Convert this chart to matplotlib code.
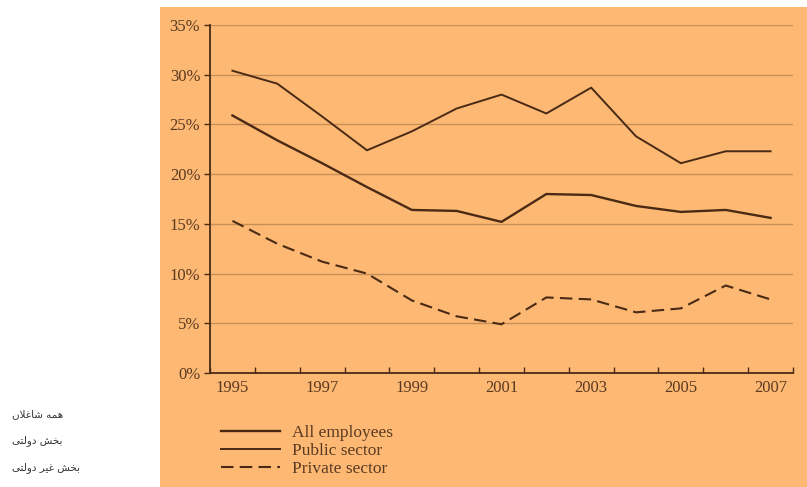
import matplotlib
matplotlib.use("Agg")
import matplotlib.pyplot as plt
from matplotlib.patches import Rectangle
import numpy as np

years = list(range(1995, 2008))
all_employees = [25.9, 23.4, 21.1, 18.7, 16.4, 16.3, 15.2, 18.0, 17.9, 16.8, 16.2, 16.4, 15.6]
public_sector = [30.4, 29.1, 25.8, 22.4, 24.3, 26.6, 28.0, 26.1, 28.7, 23.8, 21.1, 22.3, 22.3]
private_sector = [15.3, 13.0, 11.2, 10.0, 7.3, 5.7, 4.9, 7.6, 7.4, 6.1, 6.5, 8.8, 7.4]
series_labels = ["All employees", "Public sector", "Private sector"]
# Persian labels (pre-shaped presentation forms in visual order)
persian_labels = [
    "\uFEE5\uFEFC\uFECF\uFE8E\uFEB7 \uFEEA\uFEE4\uFEEB",              # همه شاغلان
    "\uFEF0\uFE98\uFEDF\uFEED\uFEA9 \uFEB6\uFEA8\uFE91",              # بخش دولتی
    "\uFEF0\uFE98\uFEDF\uFEED\uFEA9 \uFEAE\uFEF4\uFECF \uFEB6\uFEA8\uFE91",  # بخش غیر دولتی
]
yticks = [0, 5, 10, 15, 20, 25, 30, 35]

W, H = 807, 487
fig = plt.figure(figsize=(W / 100, H / 100), dpi=100)
fig.patch.set_facecolor("white")

bg = "#FDB973"
ink = "#4a2a14"
txt = "#5a3a22"
grid = "#c98e58"

fig.patches.append(Rectangle((160 / W, 0), 1, (H - 7) / H, transform=fig.transFigure,
                             facecolor=bg, edgecolor="none", zorder=-10))

ax = fig.add_axes([210 / W, 1 - 373 / H, (793 - 210) / W, (373 - 25) / H])
ax.set_facecolor("none")

x = np.arange(len(years))
l1, = ax.plot(x, all_employees, color=ink, lw=1.7, solid_joinstyle="round")
l2, = ax.plot(x, public_sector, color=ink, lw=1.4, solid_joinstyle="round")
l3, = ax.plot(x, private_sector, color=ink, lw=1.5, linestyle=(0, (6, 3)))

ax.set_xlim(-0.5, len(years) - 0.5)
ax.set_ylim(0, 35)
ax.set_yticks(yticks)
ax.set_yticklabels([f"{v}%" for v in yticks])
ax.set_xticks(x[::2])
ax.set_xticklabels([str(y) for y in years[::2]])
ax.set_xticks(np.arange(-0.5, len(years), 1), minor=True)
ax.tick_params(axis="x", which="major", length=0, pad=5)
ax.tick_params(axis="x", which="minor", length=4, direction="in", color=ink, width=1)
ax.tick_params(axis="y", length=4, direction="out", color=ink, width=1, pad=3)

for v in yticks[1:]:
    ax.axhline(v, color=grid, lw=1.0, zorder=0)

for s in ["top", "right"]:
    ax.spines[s].set_visible(False)
for s in ["left", "bottom"]:
    ax.spines[s].set_color(ink)
    ax.spines[s].set_linewidth(1.3)

serif = ["Liberation Serif", "DejaVu Serif"]
for lab in ax.get_xticklabels() + ax.get_yticklabels():
    lab.set_fontfamily(serif)
    lab.set_fontsize(12)
    lab.set_color(txt)

leg = fig.legend([l1, l2, l3], series_labels, loc="upper left",
                 bbox_to_anchor=(205 / W, 1 - 409 / H), frameon=False,
                 handlelength=3.4, handletextpad=0.7, labelspacing=0.12,
                 prop={"family": serif, "size": 12.5})
for t in leg.get_texts():
    t.set_color(txt)

for i, s in enumerate(persian_labels):
    fig.text(12 / W, 1 - (414 + 27 * i) / H, s, fontsize=7.5, color="#333333",
             family=["DejaVu Sans"], ha="left", va="center")

fig.savefig("out.png", dpi=100)
